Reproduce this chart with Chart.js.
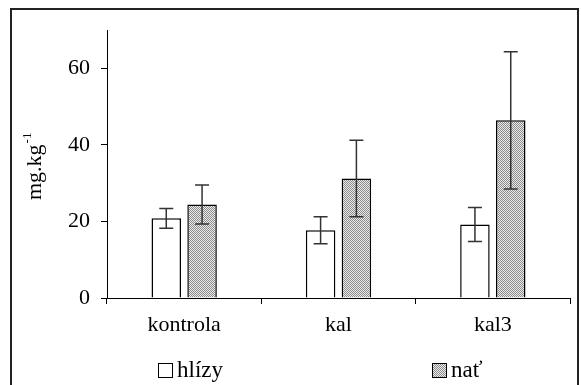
<!DOCTYPE html>
<html><head><meta charset="utf-8">
<script src="https://cdn.jsdelivr.net/npm/chart.js@4/dist/chart.umd.min.js"></script>
<style>html,body{margin:0;padding:0;background:#fff}canvas{display:block}</style>
</head><body>
<canvas id="c" width="581" height="385"></canvas>
<script>
// ---- data ----
const categories = ['kontrola', 'kal', 'kal3'];
const seriesNames = ['hlízy', 'nať'];
const hlizy = [20.8, 17.7, 19.2];
const hlizyErr = [2.6, 3.5, 4.45];
const nat = [24.4, 31.2, 46.4];
const natErr = [5.1, 10.0, 17.9];
const yTicks = [0, 20, 40, 60];
const yTitle = 'mg.kg';
const yTitleSup = '-1';

const FONT = "'Liberation Serif', 'Times New Roman', serif";

function makePattern() {
  const c = document.createElement('canvas');
  c.width = 2; c.height = 2;
  const x = c.getContext('2d');
  x.fillStyle = '#ececec'; x.fillRect(0, 0, 2, 2);
  x.fillStyle = '#8a8a8a'; x.fillRect(0, 0, 1, 1); x.fillRect(1, 1, 1, 1);
  return x.createPattern(c, 'repeat');
}
const ctx0 = document.getElementById('c').getContext('2d');
const pat = makePattern();

const errors = [hlizyErr, natErr];

const framePlugin = {
  id: 'frame',
  beforeDraw(chart) {
    const c = chart.ctx;
    c.save();
    c.fillStyle = '#fff';
    c.fillRect(0, 0, chart.width, chart.height);
    c.strokeStyle = '#222';
    c.lineWidth = 2;
    c.strokeRect(11, 9, 567, 420);
    c.restore();
  }
};

const errPlugin = {
  id: 'errbars',
  afterDatasetsDraw(chart) {
    const c = chart.ctx, ys = chart.scales.y;
    c.save();
    c.strokeStyle = '#333';
    c.lineWidth = 1.5;
    chart.data.datasets.forEach((ds, di) => {
      const meta = chart.getDatasetMeta(di);
      meta.data.forEach((bar, i) => {
        const v = ds.data[i], e = errors[di][i];
        const x = bar.x;
        const yt = ys.getPixelForValue(v + e), yb = ys.getPixelForValue(v - e);
        c.beginPath();
        c.moveTo(x, yt); c.lineTo(x, yb);
        c.moveTo(x - 7, yt); c.lineTo(x + 7, yt);
        c.moveTo(x - 7, yb); c.lineTo(x + 7, yb);
        c.stroke();
      });
    });
    c.restore();
  }
};

const decorPlugin = {
  id: 'decor',
  afterDraw(chart) {
    const c = chart.ctx;
    c.save();
    // y title
    c.translate(41, 200);
    c.rotate(-Math.PI / 2);
    c.fillStyle = '#000';
    c.font = '22px ' + FONT;
    c.textAlign = 'left';
    c.textBaseline = 'alphabetic';
    c.fillText(yTitle, 0, 0);
    const w = c.measureText(yTitle).width;
    c.font = '13px ' + FONT;
    c.fillText(yTitleSup, w + 1, -10);
    c.restore();
    // legend
    c.save();
    const items = [{x: 158, tx: 177}, {x: 432, tx: 451}];
    chart.data.datasets.forEach((ds, i) => {
      const it = items[i];
      c.fillStyle = ds.backgroundColor;
      c.fillRect(it.x, 363, 14, 14);
      c.strokeStyle = '#000';
      c.lineWidth = 1;
      c.strokeRect(it.x + 0.5, 363.5, 14, 14);
      c.fillStyle = '#000';
      c.font = '23px ' + FONT;
      c.textBaseline = 'alphabetic';
      c.fillText(ds.label, it.tx, 377);
    });
    c.restore();
  }
};

new Chart(ctx0, {
  type: 'bar',
  data: {
    labels: categories,
    datasets: [
      { label: seriesNames[0], data: hlizy, backgroundColor: '#ffffff', borderColor: '#000', borderWidth: 1.5,
        categoryPercentage: 0.464, barPercentage: 0.824 },
      { label: seriesNames[1], data: nat, backgroundColor: pat, borderColor: '#000', borderWidth: 1.5,
        categoryPercentage: 0.464, barPercentage: 0.824 }
    ]
  },
  options: {
    responsive: false,
    animation: false,
    events: [],
    layout: { padding: { top: 30, right: 11, bottom: 0, left: 0 } },
    plugins: { legend: { display: false }, tooltip: { enabled: false } },
    scales: {
      x: {
        offset: true,
        grid: { offset: true, drawOnChartArea: false, tickLength: 6, color: '#000', lineWidth: 1 },
        border: { color: '#000', width: 1 },
        ticks: { font: { family: FONT, size: 22 }, color: '#000', padding: 8 },
        afterFit: s => { s.height = 87; }
      },
      y: {
        min: 0, max: 70,
        afterBuildTicks: s => { s.ticks = yTicks.map(v => ({ value: v })); },
        grid: { drawOnChartArea: false, tickLength: 6, color: '#000', lineWidth: 1 },
        border: { color: '#000', width: 1 },
        ticks: { font: { family: FONT, size: 22 }, color: '#000', padding: 11 },
        afterFit: s => { s.width = 107; }
      }
    }
  },
  plugins: [framePlugin, errPlugin, decorPlugin]
});
</script>
</body></html>
